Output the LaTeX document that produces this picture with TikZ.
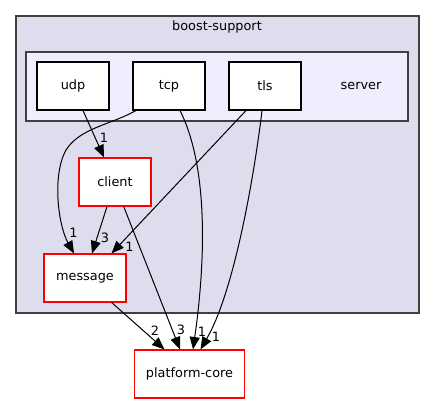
\documentclass[tikz,border=0pt]{standalone}
\usepackage{fontspec}
\setmainfont{DejaVu Sans}
\usetikzlibrary{arrows.meta,calc}
\definecolor{outerfill}{HTML}{DDDDEE}
\definecolor{innerfill}{HTML}{EEEEFF}
\definecolor{clusterline}{HTML}{404040}
\begin{document}
\begin{tikzpicture}[x=1pt,y=-1pt,
  font=\fontsize{12.85}{15}\selectfont,
  dirbox/.style={draw=black,fill=white,line width=1.1pt,minimum width=72pt,minimum height=48pt,inner sep=0pt},
  redbox/.style={draw=red,fill=white,line width=1.1pt,minimum height=48pt,inner sep=0pt},
  dep/.style={draw=black,line width=1pt,-{Triangle[length=12.5pt,width=10pt]}},
  elabel/.style={inner sep=0pt,font=\fontsize{12.85}{15}\selectfont}]
\useasboundingbox (0,0) rectangle (435,404);
\fill[white] (0,0) rectangle (435,404);
% clusters
\draw[fill=outerfill,draw=clusterline,line width=1.2pt] (16,16) rectangle (419,313);
\node (bslabel) at (217,27) {boost-support};
\draw[fill=innerfill,draw=clusterline,line width=1.2pt] (26,52) rectangle (408,121);
\node (serverlabel) at (361,86) {server};
% nodes
\node[dirbox] (udp) at (73,86) {udp};
\node[dirbox] (tcp) at (169,86) {tcp};
\node[dirbox] (tls) at (265,86) {tls};
\node[redbox,minimum width=72pt] (client) at (115,182) {client};
\node[redbox,minimum width=82pt] (message) at (85,278) {message};
\node[redbox,minimum width=110pt] (platform) at (189.5,374) {platform-core};
% edges
\draw[dep] ([xshift=10pt]udp.south) -- ([xshift=-11pt]client.north);
\draw[dep] ([xshift=-33pt]tcp.south) .. controls (110,125) and (80,128) .. (66,150)
  .. controls (52,175) and (58,225) .. ([xshift=-11pt]message.north);
\draw[dep] ([xshift=11pt]tcp.south) .. controls (215,180) and (200,300) .. ([xshift=3.5pt]platform.north);
\draw[dep] ([xshift=-19pt]tls.south) -- ([xshift=26.5pt]message.north);
\draw[dep] ([xshift=-3pt]tls.south) .. controls (255,170) and (235,290) .. ([xshift=11pt]platform.north);
\draw[dep] ([xshift=-8pt]client.south) -- ([xshift=7pt]message.north);
\draw[dep] ([xshift=8.7pt]client.south) -- ([xshift=-9.5pt]platform.north);
\draw[dep] ([xshift=26.7pt]message.south) -- ([xshift=-25pt]platform.north);
% labels
\node[elabel] (l1) at (104,138) {1};
\node[elabel] (l2) at (73.5,233) {1};
\node[elabel] (l3) at (129.5,247) {1};
\node[elabel] (l4) at (105,238) {3};
\node[elabel] (l5) at (155,331) {2};
\node[elabel] (l6) at (181,330) {3};
\node[elabel] (l7) at (202,332) {1};
\node[elabel] (l8) at (216,337) {1};
\end{tikzpicture}
\end{document}
